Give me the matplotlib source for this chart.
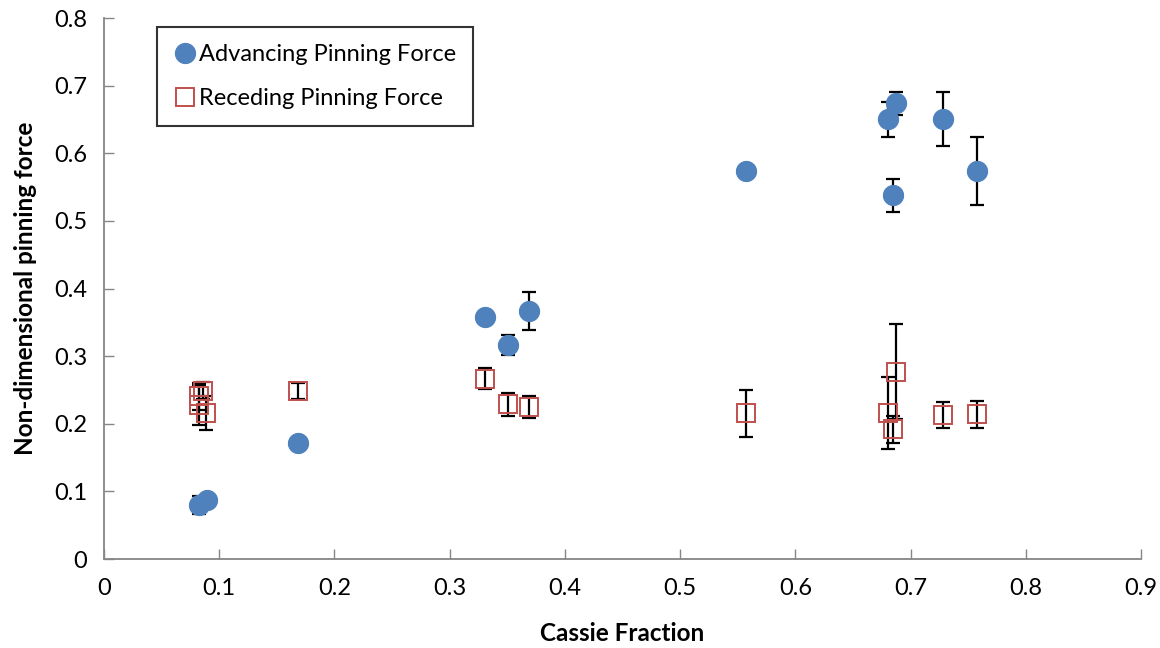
import matplotlib
matplotlib.use("Agg")
import matplotlib.pyplot as plt

plt.rcParams['font.family'] = ['Lato', 'DejaVu Sans']

# ==========================
# data
# ==========================
adv_x = [0.0827, 0.089, 0.168, 0.331, 0.351, 0.369, 0.557, 0.680, 0.687, 0.685, 0.7286, 0.758]
adv_y = [0.0799, 0.0873, 0.171, 0.358, 0.3165, 0.367, 0.5738, 0.6505, 0.674, 0.538, 0.6505, 0.574]
adv_err = [0.014, 0.0, 0.0, 0.0, 0.015, 0.0276, 0.0, 0.026, 0.017, 0.024, 0.040, 0.050]

rec_x = [0.0857, 0.0827, 0.082, 0.0885, 0.168, 0.331, 0.351, 0.369, 0.557, 0.680, 0.687, 0.685, 0.7286, 0.758]
rec_y = [0.249, 0.241, 0.228, 0.2164, 0.248, 0.267, 0.2288, 0.2253, 0.2155, 0.2155, 0.277, 0.192, 0.213, 0.2144]
rec_err = [0.013, 0.02, 0.03, 0.025, 0.012, 0.016, 0.017, 0.016, 0.035, 0.053, 0.070, 0.020, 0.019, 0.020]

x_ticks = [0, 0.1, 0.2, 0.3, 0.4, 0.5, 0.6, 0.7, 0.8, 0.9]
x_labels = ["0", "0.1", "0.2", "0.3", "0.4", "0.5", "0.6", "0.7", "0.8", "0.9"]
y_ticks = [0, 0.1, 0.2, 0.3, 0.4, 0.5, 0.6, 0.7, 0.8]
y_labels = ["0", "0.1", "0.2", "0.3", "0.4", "0.5", "0.6", "0.7", "0.8"]

BLUE = "#4F81BD"
RED = "#C0504D"
AXIS_GREY = "#868686"

fig = plt.figure(figsize=(11.6, 6.48), dpi=100)
ax = fig.add_axes([0.0897, 0.1373, 0.9836 - 0.0897, 0.972 - 0.1373])

# error bars (behind markers)
ax.errorbar(adv_x, adv_y, yerr=adv_err, fmt="none", ecolor="black",
            elinewidth=1.6, capsize=5, capthick=1.6, zorder=2)
ax.errorbar(rec_x, rec_y, yerr=rec_err, fmt="none", ecolor="black",
            elinewidth=1.6, capsize=5, capthick=1.6, zorder=2)

ax.plot(adv_x, adv_y, linestyle="none", marker="o", markersize=14.5,
        markerfacecolor=BLUE, markeredgecolor=BLUE, markeredgewidth=0.8,
        label="Advancing Pinning Force", zorder=3)
ax.plot(rec_x, rec_y, linestyle="none", marker="s", markersize=13,
        markerfacecolor="none", markeredgecolor=RED, markeredgewidth=1.4,
        label="Receding Pinning Force", zorder=4)

ax.set_xlim(0, 0.9)
ax.set_ylim(0, 0.8)
ax.set_xticks(x_ticks)
ax.set_xticklabels(x_labels)
ax.set_yticks(y_ticks)
ax.set_yticklabels(y_labels)

for side in ("top", "right"):
    ax.spines[side].set_visible(False)
for side in ("left", "bottom"):
    ax.spines[side].set_color(AXIS_GREY)
    ax.spines[side].set_linewidth(1.3)

ax.tick_params(axis="both", direction="in", length=7, width=1.0,
               color=AXIS_GREY, labelsize=17, labelcolor="black")
ax.tick_params(axis="x", pad=14)
ax.tick_params(axis="y", pad=12)

ax.set_xlabel("Cassie Fraction", fontsize=17.5, fontweight="bold", labelpad=16)
ax.set_ylabel("Non-dimensional pinning force", fontsize=17.5, fontweight="bold", labelpad=12)

leg = ax.legend(loc="upper left", bbox_to_anchor=(0.051, 0.983), fontsize=17,
                frameon=True, fancybox=False, edgecolor="black",
                handletextpad=0.1, handlelength=1.0, borderpad=0.7,
                labelspacing=1.0, borderaxespad=0.0, markerscale=1.0)
leg.get_frame().set_linewidth(1.5)

fig.savefig("out.png", dpi=100, facecolor="white")
